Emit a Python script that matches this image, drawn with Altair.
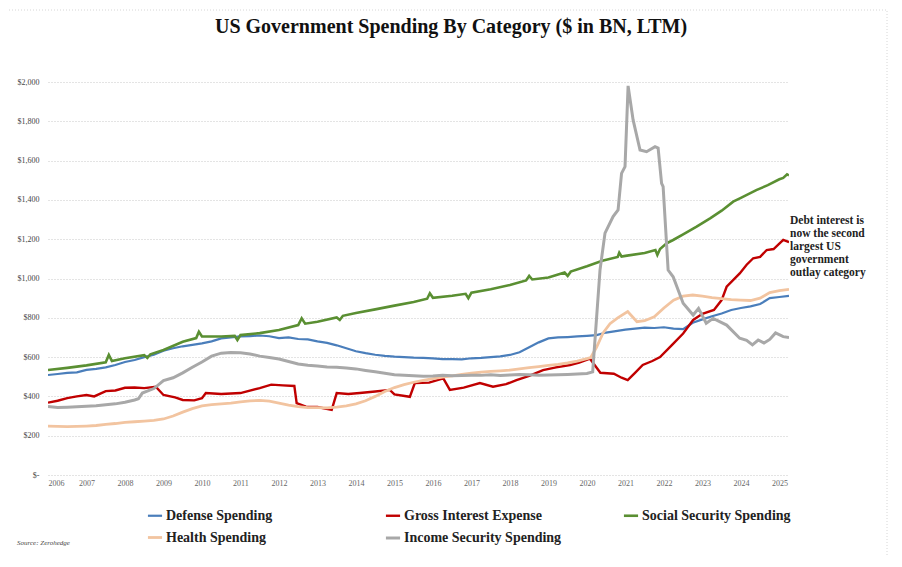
import altair as alt
import pandas as pd

# ---- data (decimal year, $BN LTM) ----
defense = [(2006.0, 509), (2006.25, 514), (2006.5, 520), (2006.75, 522),
           (2007.0, 535), (2007.25, 540), (2007.5, 548), (2007.75, 560),
           (2008.0, 575), (2008.25, 585), (2008.5, 600), (2008.75, 612),
           (2009.0, 633), (2009.25, 645), (2009.5, 655), (2009.75, 662),
           (2010.0, 670), (2010.25, 680), (2010.5, 695), (2010.75, 700),
           (2011.0, 705), (2011.25, 707), (2011.5, 710), (2011.75, 706),
           (2012.0, 697), (2012.25, 700), (2012.5, 692), (2012.75, 690),
           (2013.0, 680), (2013.25, 672), (2013.5, 660), (2013.75, 645),
           (2014.0, 630), (2014.25, 620), (2014.5, 612), (2014.75, 606),
           (2015.0, 602), (2015.25, 600), (2015.5, 597), (2015.75, 596),
           (2016.0, 594), (2016.25, 590), (2016.5, 590), (2016.75, 588),
           (2017.0, 594), (2017.25, 596), (2017.5, 600), (2017.75, 604),
           (2018.0, 611), (2018.25, 625), (2018.5, 650), (2018.75, 675),
           (2019.0, 695), (2019.25, 700), (2019.5, 702), (2019.75, 705),
           (2020.0, 708), (2020.25, 712), (2020.5, 725), (2020.75, 732),
           (2021.0, 740), (2021.25, 745), (2021.5, 750), (2021.75, 748),
           (2022.0, 752), (2022.25, 745), (2022.5, 742), (2022.75, 775),
           (2023.0, 792), (2023.25, 808), (2023.5, 822), (2023.75, 840),
           (2024.0, 850), (2024.25, 858), (2024.5, 870), (2024.75, 900),
           (2025.0, 906), (2025.25, 912)]

interest = [(2006.0, 368), (2006.25, 378), (2006.5, 391), (2006.75, 400),
            (2007.0, 407), (2007.2, 400), (2007.5, 427), (2007.75, 430),
            (2008.0, 444), (2008.25, 445), (2008.5, 442), (2008.8, 449),
            (2009.0, 407), (2009.3, 395), (2009.5, 382), (2009.8, 380),
            (2010.0, 391), (2010.1, 417), (2010.5, 412), (2011.0, 417),
            (2011.5, 442), (2011.8, 460), (2012.1, 456), (2012.4, 453),
            (2012.46, 366), (2012.7, 348), (2013.0, 346), (2013.37, 331),
            (2013.5, 417), (2013.8, 412), (2014.1, 417), (2014.5, 425),
            (2014.88, 433), (2015.0, 410), (2015.4, 398), (2015.53, 468),
            (2015.9, 470), (2016.27, 492), (2016.44, 433), (2016.8, 445),
            (2017.22, 468), (2017.56, 449), (2017.9, 462), (2018.17, 483),
            (2018.5, 505), (2018.86, 534), (2019.2, 548), (2019.56, 560),
            (2019.8, 572), (2020.08, 592), (2020.2, 560), (2020.35, 520),
            (2020.7, 515), (2020.9, 495), (2021.06, 483), (2021.25, 520),
            (2021.45, 560), (2021.7, 580), (2021.9, 600), (2022.2, 660),
            (2022.5, 720), (2022.76, 789), (2023.0, 820), (2023.3, 840),
            (2023.5, 890), (2023.63, 958), (2023.97, 1026), (2024.15, 1070),
            (2024.32, 1103), (2024.5, 1110), (2024.67, 1145), (2024.85, 1150),
            (2025.1, 1196), (2025.25, 1185)]

social = [(2006.0, 534), (2006.5, 545), (2007.0, 558), (2007.5, 574),
          (2007.58, 611), (2007.66, 580), (2008.0, 594), (2008.5, 610),
          (2008.58, 596), (2008.66, 614), (2009.0, 636), (2009.5, 678),
          (2009.85, 697), (2009.92, 729), (2010.0, 705), (2010.5, 705),
          (2010.85, 708), (2010.92, 687), (2011.0, 712), (2011.5, 722),
          (2012.0, 738), (2012.5, 763), (2012.59, 797), (2012.68, 770),
          (2013.0, 780), (2013.5, 802), (2013.58, 789), (2013.66, 810),
          (2014.0, 824), (2014.5, 843), (2015.0, 862), (2015.5, 880),
          (2015.85, 897), (2015.92, 925), (2016.0, 902), (2016.5, 912),
          (2016.85, 922), (2016.92, 900), (2017.0, 928), (2017.5, 945),
          (2018.0, 967), (2018.42, 990), (2018.5, 1013), (2018.58, 995),
          (2019.0, 1005), (2019.42, 1030), (2019.5, 1013), (2019.58, 1035),
          (2020.0, 1062), (2020.4, 1090), (2020.8, 1110), (2020.84, 1131),
          (2020.9, 1112), (2021.0, 1115), (2021.5, 1130), (2021.78, 1145),
          (2021.83, 1120), (2021.9, 1150), (2022.07, 1179), (2022.24, 1196),
          (2022.5, 1225), (2022.85, 1264), (2023.2, 1306), (2023.5, 1345),
          (2023.8, 1391), (2024.0, 1410), (2024.4, 1450), (2024.7, 1475),
          (2025.0, 1505), (2025.1, 1512), (2025.2, 1530), (2025.25, 1525)]

health = [(2006.0, 249), (2006.25, 247), (2006.5, 246), (2006.75, 247),
          (2007.0, 249), (2007.25, 252), (2007.5, 258), (2007.75, 262),
          (2008.0, 268), (2008.25, 271), (2008.5, 274), (2008.75, 278),
          (2009.0, 285), (2009.25, 300), (2009.5, 320), (2009.75, 338),
          (2010.0, 352), (2010.25, 358), (2010.5, 362), (2010.75, 366),
          (2011.0, 372), (2011.25, 377), (2011.5, 380), (2011.75, 376),
          (2012.0, 366), (2012.25, 356), (2012.5, 348), (2012.75, 343),
          (2013.0, 343), (2013.25, 342), (2013.5, 345), (2013.75, 352),
          (2014.0, 362), (2014.25, 378), (2014.5, 400), (2014.75, 425),
          (2015.0, 445), (2015.25, 460), (2015.5, 472), (2015.75, 482),
          (2016.0, 490), (2016.25, 498), (2016.5, 505), (2016.75, 512),
          (2017.0, 518), (2017.25, 523), (2017.5, 527), (2017.75, 530),
          (2018.0, 534), (2018.25, 540), (2018.5, 546), (2018.75, 552),
          (2019.0, 558), (2019.25, 563), (2019.5, 570), (2019.75, 580),
          (2020.0, 592), (2020.1, 598), (2020.25, 650), (2020.42, 723),
          (2020.6, 770), (2020.8, 800), (2021.06, 832), (2021.3, 780),
          (2021.5, 785), (2021.75, 805), (2022.0, 850), (2022.25, 890),
          (2022.5, 910), (2022.75, 916), (2023.0, 910), (2023.25, 903),
          (2023.5, 898), (2023.75, 893), (2024.0, 890), (2024.25, 888),
          (2024.5, 900), (2024.75, 928), (2025.0, 938), (2025.25, 945)]

income = [(2006.0, 348), (2006.25, 344), (2006.5, 345), (2006.75, 347),
          (2007.0, 350), (2007.25, 352), (2007.5, 358), (2007.75, 362),
          (2008.0, 370), (2008.25, 382), (2008.35, 388), (2008.45, 417),
          (2008.75, 440), (2009.0, 480), (2009.25, 495), (2009.5, 520),
          (2009.75, 548), (2010.0, 575), (2010.25, 605), (2010.5, 620),
          (2010.75, 623), (2011.0, 622), (2011.25, 616), (2011.5, 605),
          (2011.75, 598), (2012.0, 590), (2012.25, 578), (2012.5, 565),
          (2012.75, 558), (2013.0, 555), (2013.25, 550), (2013.5, 548),
          (2013.75, 545), (2014.0, 540), (2014.25, 532), (2014.5, 525),
          (2014.75, 518), (2015.0, 510), (2015.25, 508), (2015.5, 505),
          (2015.75, 503), (2016.0, 504), (2016.25, 507), (2016.5, 505),
          (2016.75, 506), (2017.0, 508), (2017.25, 507), (2017.5, 510),
          (2017.75, 507), (2018.0, 509), (2018.25, 511), (2018.5, 510),
          (2018.75, 508), (2019.0, 509), (2019.25, 510), (2019.5, 512),
          (2019.75, 514), (2020.0, 517), (2020.15, 525), (2020.34, 1043),
          (2020.47, 1231), (2020.68, 1315), (2020.81, 1349), (2020.9, 1535),
          (2020.99, 1569), (2021.07, 1980), (2021.2, 1807), (2021.38, 1654),
          (2021.55, 1645), (2021.77, 1671), (2021.85, 1664), (2021.94, 1484),
          (2021.98, 1467), (2022.11, 1043), (2022.24, 1009), (2022.5, 874),
          (2022.76, 814), (2022.9, 848), (2023.1, 772), (2023.28, 797),
          (2023.63, 763), (2023.97, 696), (2024.15, 685), (2024.3, 662),
          (2024.45, 687), (2024.6, 672), (2024.75, 690), (2024.9, 723),
          (2025.1, 704), (2025.25, 700)]

series_names = ["Defense Spending", "Gross Interest Expense", "Social Security Spending",
                "Health Spending", "Income Security Spending"]
series_data = [defense, interest, social, health, income]
series_colors = ["#4a7ebb", "#c00000", "#5a8f32", "#f2c4a0", "#a8a8a8"]
series_widths = [2.2, 3.0, 2.6, 3.0, 3.0]

year_ticks = list(range(2006, 2026))
value_ticks = list(range(0, 2001, 200))

title_text = "US Government Spending By Category ($ in BN, LTM)"
note_lines = ["Debt interest is", "now the second", "largest US", "government", "outlay category"]
source_text = "Source: Zerohedge"

rows = []
for name, data in zip(series_names, series_data):
    for t, v in data:
        rows.append({"series": name, "year": t, "value": v})
df = pd.DataFrame(rows)

SERIF = "Liberation Serif"

lines = alt.Chart(df).mark_line(clip=True).encode(
    x=alt.X("year:Q",
            scale=alt.Scale(domain=[2006, 2025.25], nice=False, zero=False),
            axis=alt.Axis(values=year_ticks, format="d", title=None, grid=False,
                          domain=False, ticks=False, labelFontSize=8,
                          labelColor="#666666", labelFont=SERIF, labelPadding=4)),
    y=alt.Y("value:Q",
            scale=alt.Scale(domain=[0, 2000], nice=False),
            axis=alt.Axis(values=value_ticks, title=None, domain=False, ticks=False,
                          grid=True, gridDash=[1, 2], gridColor="#c8c8c8",
                          labelExpr="datum.value == 0 ? '$-' : '$' + format(datum.value, ',')",
                          labelFontSize=8, labelColor="#444444", labelFont=SERIF,
                          labelPadding=9)),
    color=alt.Color("series:N",
                    scale=alt.Scale(domain=series_names, range=series_colors),
                    legend=alt.Legend(title=None, orient="none", legendX=98, legendY=425,
                                      columns=3, direction="horizontal", gridAlign="all",
                                      symbolType="stroke",
                                      symbolStrokeWidth=3, symbolSize=200,
                                      labelFont=SERIF, labelFontSize=14,
                                      labelFontWeight="bold", labelColor="#222222",
                                      columnPadding=55, rowPadding=6, labelOffset=2,
                                      labelLimit=300)),
    strokeWidth=alt.StrokeWidth("series:N",
                                scale=alt.Scale(domain=series_names, range=series_widths),
                                legend=None),
)

one_row = pd.DataFrame({"k": [0]})

title = alt.Chart(one_row).mark_text(
    text=title_text, align="center", baseline="middle", font=SERIF, fontSize=20,
    fontWeight="bold", color="#111111"
).encode(x=alt.value(403), y=alt.value(-55))

note = alt.Chart(one_row).mark_text(
    text=note_lines, align="left", baseline="top", font=SERIF, fontSize=11.5,
    fontWeight="bold", color="#222222", lineHeight=13
).encode(x=alt.value(742), y=alt.value(133))

source = alt.Chart(one_row).mark_text(
    text=source_text, align="left", baseline="middle", font=SERIF, fontSize=7,
    fontStyle="italic", color="#444444"
).encode(x=alt.value(-31), y=alt.value(461))

frame = alt.Chart(one_row).mark_rect(
    filled=False, stroke="#d6d6d6", strokeDash=[1, 2], strokeWidth=1
).encode(x=alt.value(-42), x2=alt.value(839), y=alt.value(-72), y2=alt.value(480))

chart = alt.layer(frame, lines, title, note, source).properties(
    width=741, height=393,
    autosize=alt.AutoSizeParams(type="none"),
    padding={"left": 40, "top": 74, "right": 105, "bottom": 80},
    background="white",
).configure_view(stroke=None)

chart.save("out.html", embed_options={"renderer": "svg", "actions": False})
